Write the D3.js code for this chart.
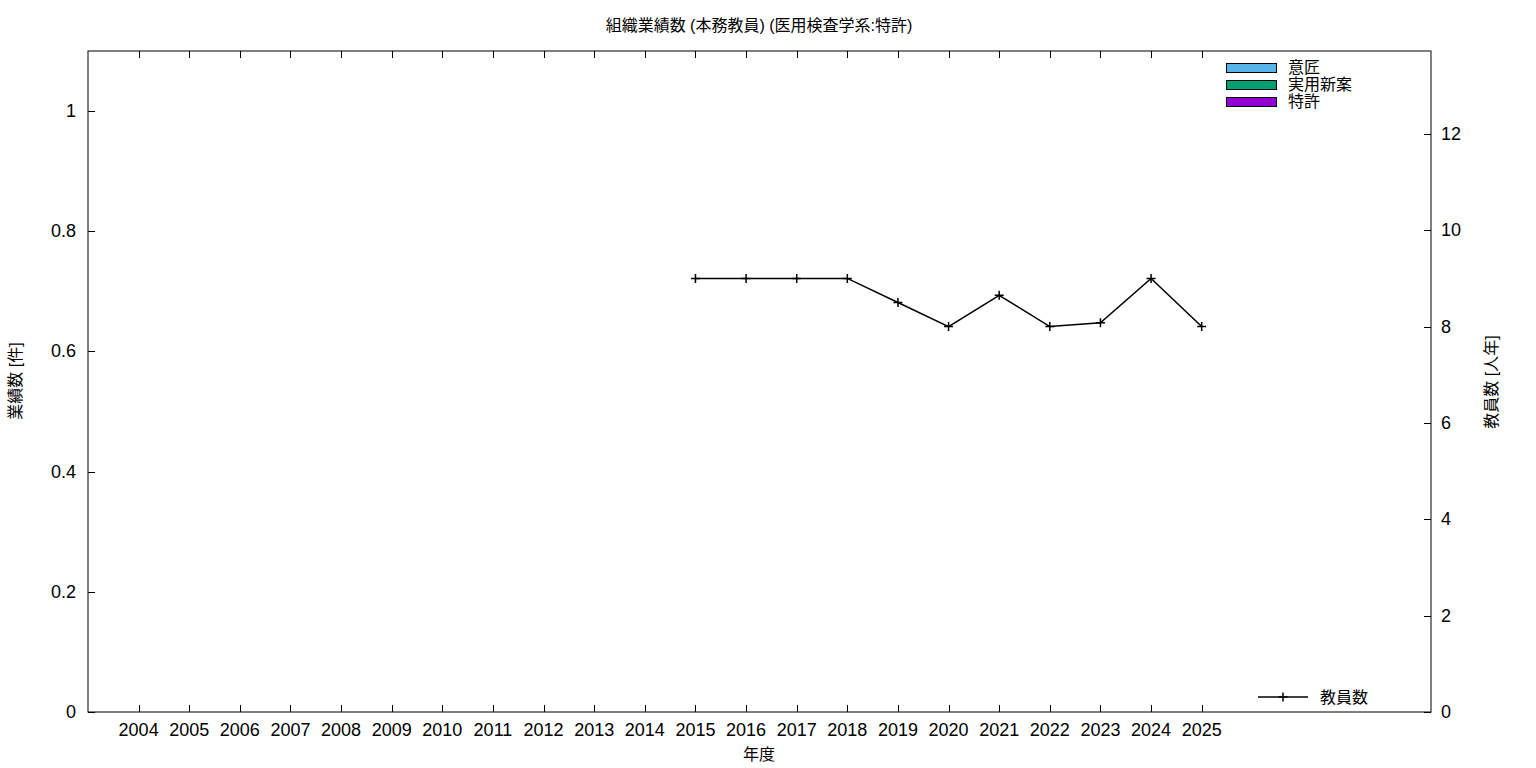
<!DOCTYPE html>
<html><head><meta charset="utf-8">
<script src="https://cdn.jsdelivr.net/npm/d3@7"></script>
<style>
body{margin:0;background:#fff;}
svg{display:block;font-family:"Liberation Sans","Noto Sans CJK JP",sans-serif;}
</style></head>
<body><svg id="c" width="1536" height="768"></svg>
<script>
const years = ["2004","2005","2006","2007","2008","2009","2010","2011","2012","2013","2014","2015","2016","2017","2018","2019","2020","2021","2022","2023","2024","2025"];
const ishou = [0,0,0,0,0,0,0,0,0,0,0,0,0,0,0,0,0,0,0,0,0,0];
const jitsuyou = [0,0,0,0,0,0,0,0,0,0,0,0,0,0,0,0,0,0,0,0,0,0];
const tokkyo = [0,0,0,0,0,0,0,0,0,0,0,0,0,0,0,0,0,0,0,0,0,0];
const staffYears = ["2015","2016","2017","2018","2019","2020","2021","2022","2023","2024","2025"];
const staff = [9,9,9,9,8.5,8,8.65,8,8.08,9,8];
const leftTicks = [0,0.2,0.4,0.6,0.8,1];
const rightTicks = [0,2,4,6,8,10,12];
const seriesNames = ["意匠","実用新案","特許"];
const seriesColors = ["#56b4e9","#009e73","#9400d3"];

const L=88, R=1431, T=51, B=712;
const svg = d3.select("#c");
const x = d3.scaleLinear().domain([-1, 25.53]).range([L, R]);
const y = d3.scaleLinear().domain([0, 1.1]).range([B, T]);
const y2 = d3.scaleLinear().domain([0, 13.72]).range([B, T]);
const tl = 7;

// stacked bars (all zero here)
const stackData = years.map((yr,i)=>({year:yr, i, a:ishou[i], b:jitsuyou[i], c:tokkyo[i]}));
const series = d3.stack().keys(["c","b","a"])(stackData);
const colorByKey = {a:seriesColors[0], b:seriesColors[1], c:seriesColors[2]};
series.forEach(s=>{
  svg.append("g").selectAll("rect").data(s.filter(d=>d[1]-d[0]>0)).join("rect")
    .attr("x", d=>x(d.data.i)-18).attr("width",36)
    .attr("y", d=>y(d[1])).attr("height", d=>y(d[0])-y(d[1]))
    .attr("fill", colorByKey[s.key]).attr("stroke","#000");
});

// frame
svg.append("rect").attr("x",L).attr("y",T).attr("width",R-L).attr("height",B-T)
  .attr("fill","none").attr("stroke","#000").attr("stroke-width",1);

// x ticks bottom & top
const xg = svg.append("g");
years.forEach((yr,i)=>{
  const xx = Math.round(x(i))+0.5;
  xg.append("line").attr("x1",xx).attr("x2",xx).attr("y1",B).attr("y2",B-tl).attr("stroke","#000");
  xg.append("line").attr("x1",xx).attr("x2",xx).attr("y1",T).attr("y2",T+tl).attr("stroke","#000");
  xg.append("text").attr("x",x(i)).attr("y",736).attr("text-anchor","middle")
    .attr("font-size",18).text(yr);
});

// left y ticks
leftTicks.forEach(v=>{
  const yy = Math.round(y(v))+0.5;
  svg.append("line").attr("x1",L).attr("x2",L+tl).attr("y1",yy).attr("y2",yy).attr("stroke","#000");
  svg.append("text").attr("x",76).attr("y",y(v)+6).attr("text-anchor","end")
    .attr("font-size",18).text(v===0?"0":(v===1?"1":d3.format(".1f")(v)));
});
// right y ticks
rightTicks.forEach(v=>{
  const yy = Math.round(y2(v))+0.5;
  svg.append("line").attr("x1",R).attr("x2",R-tl).attr("y1",yy).attr("y2",yy).attr("stroke","#000");
  svg.append("text").attr("x",1441).attr("y",y2(v)+6).attr("text-anchor","start")
    .attr("font-size",18).text(v);
});

// titles
svg.append("text").attr("x",759).attr("y",31).attr("text-anchor","middle").attr("font-size",16)
  .text("組織業績数 (本務教員) (医用検査学系:特許)");
svg.append("text").attr("x",759).attr("y",760).attr("text-anchor","middle").attr("font-size",16).text("年度");
svg.append("text").attr("transform","translate(21,381) rotate(-90)").attr("text-anchor","middle")
  .attr("font-size",16).text("業績数 [件]");
svg.append("text").attr("transform","translate(1497,382) rotate(-90)").attr("text-anchor","middle")
  .attr("font-size",16).text("教員数 [人年]");

// staff line
const idx = yr => years.indexOf(yr);
const pts = staffYears.map((yr,i)=>[x(idx(yr)), y2(staff[i])]);
svg.append("path").attr("d", d3.line()(pts)).attr("fill","none").attr("stroke","#000").attr("stroke-width",1.5);
const m = 4.5;
svg.append("g").selectAll("path").data(pts).join("path")
  .attr("d", d=>`M${d[0]-m},${d[1]}H${d[0]+m}M${d[0]},${d[1]-m}V${d[1]+m}`)
  .attr("stroke","#000").attr("stroke-width",1.5);

// top-right legend
seriesNames.forEach((n,i)=>{
  const yy = 63 + i*17;
  svg.append("rect").attr("x",1226.5).attr("y",yy+0.5).attr("width",50).attr("height",9)
    .attr("fill",seriesColors[i]).attr("stroke","#000");
  svg.append("text").attr("x",1288).attr("y",yy+10).attr("font-size",16).text(n);
});
// bottom legend
svg.append("line").attr("x1",1258).attr("x2",1308).attr("y1",697).attr("y2",697).attr("stroke","#000").attr("stroke-width",1.5);
svg.append("path").attr("d",`M1278.5,697H1287.5M1283,692.5V701.5`).attr("stroke","#000").attr("stroke-width",1.5);
svg.append("text").attr("x",1320).attr("y",703).attr("font-size",16).text("教員数");
</script>
</body></html>
